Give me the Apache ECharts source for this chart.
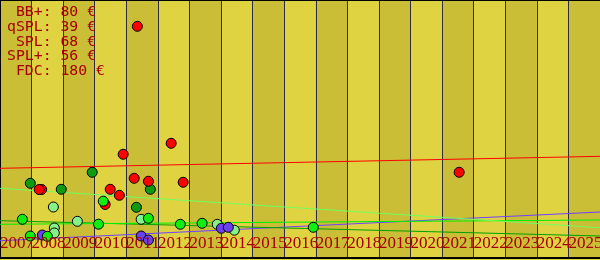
<!DOCTYPE html>
<html>
<head>
<meta charset="utf-8">
<script src="https://cdn.jsdelivr.net/npm/echarts@6/dist/echarts.min.js"></script>
<style>html,body{margin:0;padding:0;background:#dfd341}#c{width:600px;height:260px}</style>
</head>
<body>
<div id="c"></div>
<script>
// Categories (series names) and current values shown at top-left
const names = ['BB+', 'qSPL', 'SPL', 'SPL+', 'FDC'];
const currentValues = [80, 39, 68, 56, 180];
// Year tick labels (one per year band; last boundary unlabeled)
const yearLabels = ['2007','2008','2009','2010','2011','2012','2013','2014','2015','2016','2017','2018','2019','2020','2021','2022','2023','2024','2025'];
// Trend lines: value at start (2007) and end (2026)
const trendStartYear = 2007, trendEndYear = 2026;
const trendStart = [30.8, 66.5, 60.1, 124.3, 159.9];
const trendEnd   = [82.0, 39.2, 67.8, 54.0, 181.3];
// Observed sales: [year, price]
const bbPlus = [[2008.34,41.0],[2011.47,39.2],[2011.70,32.1],[2014.01,53.0],[2014.23,54.7]];
const qSpl = [[2007.96,133.2],[2008.94,122.5],[2009.92,152.8],[2011.76,122.5],[2011.32,90.4]];
const spl = [[2007.71,69.0],[2010.12,60.3],[2007.96,39.2],[2008.50,38.7],[2010.27,101.3],[2011.70,70.8],[2012.71,60.1],[2013.40,61.9],[2016.92,54.7]];
const splPlus = [[2008.69,90.9],[2009.45,65.4],[2008.72,53.5],[2008.72,44.6],[2011.47,69.0],[2013.88,60.1],[2014.42,49.6]];
const fdc = [[2011.35,413.1],[2012.42,204.5],[2010.90,184.9],[2011.25,142.1],[2011.70,136.8],[2012.80,135.0],[2010.49,122.5],[2010.78,111.8],[2010.33,95.4],[2008.32,122.1],[2008.24,122.1],[2021.54,152.8]];
const pointSets = [bbPlus, qSpl, spl, splPlus, fdc];

const lineColors = ['#7040ff', '#00a000', '#00f000', '#70ff60', '#ff0000'];
const pointColors = ['#6a40f0', '#109a10', '#10ee10', '#88f088', '#ff0000'];
const drawOrder = [3, 1, 0, 4, 2];

const legendText = names.map((n, i) => n.padStart(4, ' ') + ': ' + currentValues[i] + ' €').join('\n');

const series = [];
names.forEach((n, i) => {
  series.push({
    type: 'line', name: n + ' trend', silent: true, symbol: 'none', z: 2,
    data: [[trendStartYear, trendStart[i]], [trendEndYear, trendEnd[i]]],
    lineStyle: { color: lineColors[i], width: 1 }
  });
});
drawOrder.forEach((i, k) => {
  series.push({
    type: 'scatter', name: names[i], z: 3 + k, symbolSize: 10,
    data: pointSets[i],
    itemStyle: { color: pointColors[i], borderColor: '#000', borderWidth: 1, opacity: 1 }
  });
});

const chart = echarts.init(document.getElementById('c'), null, { renderer: 'canvas' });
chart.setOption({
  animation: false,
  backgroundColor: '#dfd341',
  title: {
    text: legendText, left: 7, top: 5, padding: 0,
    textStyle: { fontFamily: 'DejaVu Sans Mono', fontSize: 14.8, lineHeight: 14.7, fontWeight: 'normal', color: '#a80000' }
  },
  grid: { left: 0, right: 0, top: 0, bottom: 2, containLabel: false, outerBoundsMode: 'none' },
  xAxis: [{
    type: 'value', min: trendStartYear, max: trendEndYear, interval: 1,
    axisLine: { show: true, onZero: false, lineStyle: { color: '#000', width: 2 } },
    axisTick: { show: false },
    splitLine: { show: true, lineStyle: { color: '#2c2c44', width: 1 } },
    splitArea: { show: true, areaStyle: { color: ['#c9be36', '#dfd341'] } },
    axisLabel: { show: false }
  }, {
    type: 'category', position: 'bottom', boundaryGap: false,
    data: yearLabels.concat(['']),
    axisLine: { show: false }, axisTick: { show: false }, splitLine: { show: false },
    axisLabel: {
      interval: 0, inside: true, hideOverlap: false, align: 'left', margin: 6,
      fontFamily: 'Liberation Serif', fontSize: 17, color: '#a80000'
    },
    z: 10
  }],
  yAxis: {
    type: 'value', min: 0, max: 460,
    axisLine: { show: true, lineStyle: { color: '#000', width: 2 } },
    axisTick: { show: false }, axisLabel: { show: false }, splitLine: { show: false }
  },
  graphic: [{ type: 'line', shape: { x1: 0, y1: 0.5, x2: 600, y2: 0.5 }, style: { stroke: '#000', lineWidth: 1 }, z: 100 }],
  series: series
});
</script>
</body>
</html>
